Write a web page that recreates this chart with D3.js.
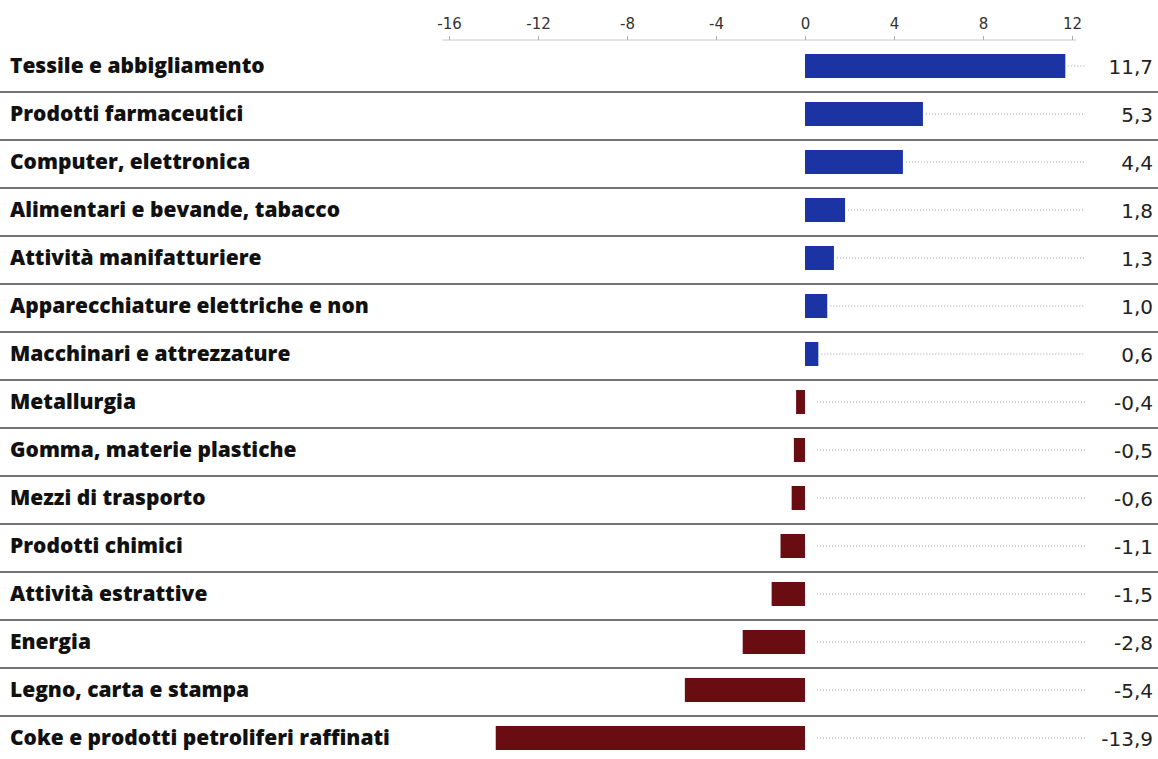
<!DOCTYPE html>
<html><head><meta charset="utf-8">
<script src="https://cdn.jsdelivr.net/npm/d3@7"></script>
<style>body{margin:0;background:#fff}svg{display:block}</style>
</head><body>
<svg id="c" width="1158" height="759"></svg>
<script>
const categories = ["Tessile e abbigliamento","Prodotti farmaceutici","Computer, elettronica","Alimentari e bevande, tabacco","Attività manifatturiere","Apparecchiature elettriche e non","Macchinari e attrezzature","Metallurgia","Gomma, materie plastiche","Mezzi di trasporto","Prodotti chimici","Attività estrattive","Energia","Legno, carta e stampa","Coke e prodotti petroliferi raffinati"];
const values = [11.7,5.3,4.4,1.8,1.3,1.0,0.6,-0.4,-0.5,-0.6,-1.1,-1.5,-2.8,-5.4,-13.9];
const tickValues = [-16,-12,-8,-4,0,4,8,12];

const svg = d3.select("#c");
const x = d3.scaleLinear().domain([0,12]).range([805,1072]);
const y = d3.scaleBand().domain(categories).range([42,762]).paddingInner(0.5).paddingOuter(0.25);
const rowStep = y.step();
const fmt = v => d3.format(".1f")(v).replace(".",",").replace("\u2212","-");

// axis
const axisG = svg.append("g").attr("transform","translate(0,40)");
axisG.call(d3.axisTop(x).tickValues(tickValues).tickSize(4).tickPadding(7).tickFormat(d=>String(d)));
axisG.select(".domain").attr("d",`M${x(-16.3)},0H${x(12.2)}`).attr("stroke","#c8c8c8");
axisG.selectAll(".tick line").attr("stroke","#aaa");
axisG.selectAll(".tick text").attr("font-family","'DejaVu Sans', sans-serif").attr("font-size",15).attr("fill","#333");

// separators
svg.selectAll("line.sep").data(categories.slice(0,-1)).join("line")
  .attr("class","sep")
  .attr("x1",0).attr("x2",1158)
  .attr("y1",d=>y(d)+y.bandwidth()/2+rowStep/2+2)
  .attr("y2",d=>y(d)+y.bandwidth()/2+rowStep/2+2)
  .attr("stroke","#444").attr("stroke-width",1.3);

const rows = categories.map((c,i)=>({c, v:values[i]}));
const bh = 24;
// leaders
svg.selectAll("line.lead").data(rows).join("line")
  .attr("x1",d=> d.v>0 ? x(d.v)+3 : x(0)+12)
  .attr("x2",1085)
  .attr("y1",d=>y(d.c)+y.bandwidth()/2)
  .attr("y2",d=>y(d.c)+y.bandwidth()/2)
  .attr("stroke","#999").attr("stroke-width",1).attr("stroke-dasharray","1,2");

// bars
svg.selectAll("rect.bar").data(rows).join("rect")
  .attr("x",d=>x(Math.min(0,d.v)))
  .attr("width",d=>Math.abs(x(d.v)-x(0)))
  .attr("y",d=>y(d.c)+y.bandwidth()/2-bh/2)
  .attr("height",bh)
  .attr("fill",d=>d.v>=0?"#1b33a3":"#6a0d12");

// category labels
const cats = svg.selectAll("text.cat").data(rows).join("text")
  .attr("x",10).attr("y",d=>y(d.c)+y.bandwidth()/2)
  .attr("dy","0.35em")
  .attr("font-family","'Open Sans', sans-serif").attr("font-weight",800).attr("font-size",20)
  .attr("fill","#111").text(d=>d.c);
// fit to reference width of the longest label (~380px)
const longest = cats.nodes()[cats.nodes().length-1].getComputedTextLength();
const fs = 20*380/longest;
cats.attr("font-size",fs);

// value labels
svg.selectAll("text.val").data(rows).join("text")
  .attr("x",1153).attr("y",d=>y(d.c)+y.bandwidth()/2+1)
  .attr("dy","0.35em").attr("text-anchor","end")
  .attr("font-family","'DejaVu Sans', sans-serif").attr("font-size",20)
  .attr("fill","#222").text(d=>fmt(d.v));
</script>
</body></html>
